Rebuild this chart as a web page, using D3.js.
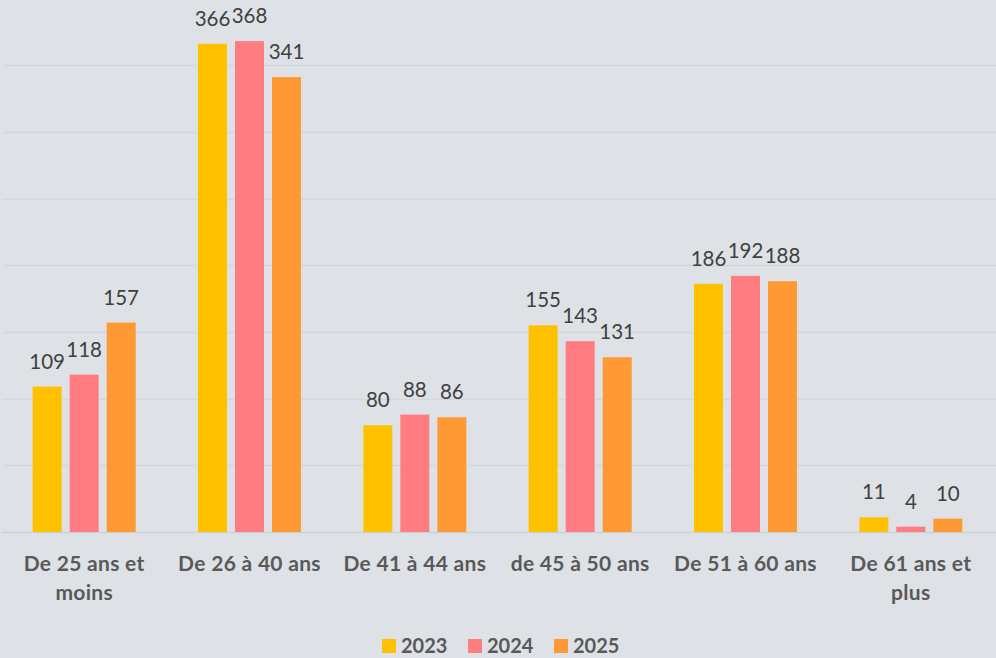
<!DOCTYPE html>
<html>
<head>
<meta charset="utf-8">
<script src="https://cdn.jsdelivr.net/npm/d3@7"></script>
<style>
  html, body { margin: 0; padding: 0; background: #dee2e6; }
  svg { display: block; }
</style>
</head>
<body>
<svg id="chart" width="996" height="658"></svg>
<script>
// Age brackets (x categories)
const categories = [
  "De 25 ans et moins",
  "De 26 à 40 ans",
  "De 41 à 44 ans",
  "de 45 à 50 ans",
  "De 51 à 60 ans",
  "De 61 ans et plus"
];
// Series, one per year
const years = ["2023", "2024", "2025"];
const values2023 = [109, 366, 80, 155, 186, 11];
const values2024 = [118, 368, 88, 143, 192, 4];
const values2025 = [157, 341, 86, 131, 188, 10];
const colors = ["#ffc000", "#ff7c80", "#ff9933"];
// Value gridlines
const gridTicks = [0, 50, 100, 150, 200, 250, 300, 350];

const seriesValues = [values2023, values2024, values2025];
const rows = categories.map((c, i) => ({
  category: c,
  values: years.map((y, k) => ({ year: y, value: seriesValues[k][i], k }))
}));

const W = 996, H = 658;
const svg = d3.select("#chart");
svg.append("rect").attr("width", W).attr("height", H).attr("fill", "#dee2e6");

const plot = { left: 1.5, right: 993.5, top: -1.6, bottom: 532 };

const x = d3.scaleBand()
  .domain(categories)
  .range([plot.left, plot.right])
  .paddingInner(0)
  .paddingOuter(0);

// bar geometry within each category band
const barW = 29, barGap = 8;
const groupW = years.length * barW + (years.length - 1) * barGap;
const xInner = d3.scaleBand()
  .domain(years)
  .range([(x.bandwidth() - groupW) / 2, (x.bandwidth() + groupW) / 2])
  .paddingInner(barGap / (barW + barGap))
  .paddingOuter(0);

const y = d3.scaleLinear().domain([0, 400]).range([plot.bottom, plot.top]);

// gridlines
svg.append("g")
  .selectAll("line")
  .data(gridTicks)
  .join("line")
  .attr("x1", 2).attr("x2", W)
  .attr("y1", d => Math.round(y(d)) + 0.5)
  .attr("y2", d => Math.round(y(d)) + 0.5)
  .attr("stroke", d => d === 0 ? "#cdd1d5" : "#d3d7db")
  .attr("stroke-width", 1.5);

// bars
const groups = svg.append("g")
  .selectAll("g")
  .data(rows)
  .join("g")
  .attr("transform", d => `translate(${x(d.category)},0)`);

groups.selectAll("rect")
  .data(d => d.values)
  .join("rect")
  .attr("x", d => xInner(d.year))
  .attr("width", xInner.bandwidth())
  .attr("y", d => y(d.value))
  .attr("height", d => y(0) - y(d.value))
  .attr("fill", d => colors[d.k]);

// value labels
groups.selectAll("text.val")
  .data(d => d.values)
  .join("text")
  .attr("class", "val")
  .attr("x", d => xInner(d.year) + xInner.bandwidth() / 2)
  .attr("y", d => y(d.value) - 18)
  .attr("text-anchor", "middle")
  .attr("font-family", "Lato, 'Open Sans', sans-serif")
  .attr("font-size", 20.5)
  .attr("fill", "#404040")
  .text(d => d.value);

// category labels, word-wrapped
const maxLabelW = 158;
const catG = svg.append("g");
categories.forEach(c => {
  const cx = x(c) + x.bandwidth() / 2;
  const t = catG.append("text")
    .attr("x", cx)
    .attr("y", 571)
    .attr("text-anchor", "middle")
    .attr("font-family", "Lato, 'Open Sans', sans-serif")
    .attr("font-weight", "bold")
    .attr("font-size", 21)
    .attr("letter-spacing", 0.3)
    .attr("fill", "#595959");
  const words = c.split(" ");
  let line = [];
  let tspan = t.append("tspan").attr("x", cx).attr("dy", 0);
  words.forEach(w => {
    line.push(w);
    tspan.text(line.join(" "));
    if (tspan.node().getComputedTextLength() > maxLabelW && line.length > 1) {
      line.pop();
      tspan.text(line.join(" "));
      line = [w];
      tspan = t.append("tspan").attr("x", cx).attr("dy", 29).text(w);
    }
  });
});

// legend
const legend = svg.append("g");
const itemStep = 86;
const legendStart = 382;
years.forEach((yr, k) => {
  const gx = legendStart + k * itemStep;
  legend.append("rect")
    .attr("x", gx).attr("y", 639)
    .attr("width", 14).attr("height", 14)
    .attr("fill", colors[k]);
  legend.append("text")
    .attr("x", gx + 19).attr("y", 653)
    .attr("font-family", "Lato, 'Open Sans', sans-serif")
    .attr("font-weight", "bold")
    .attr("font-size", 20)
    .attr("fill", "#595959")
    .text(yr);
});
</script>
</body>
</html>
